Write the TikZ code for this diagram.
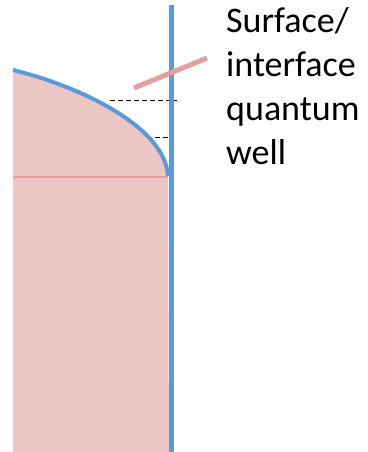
\documentclass[tikz,border=0pt]{standalone}
\usepackage{fontspec}
\setmainfont{Carlito}
\definecolor{wellblue}{RGB}{91,155,213}
\definecolor{wellfill}{RGB}{236,197,197}
\definecolor{welledge}{RGB}{226,160,160}
\definecolor{leader}{RGB}{228,160,160}
\begin{document}
\begin{tikzpicture}[x=1pt,y=-1pt,
  level/.style={black,line width=1.5pt,dash pattern=on 5pt off 3pt},
  lbl/.style={font=\fontsize{36}{44}\selectfont,align=left,inner sep=0pt,anchor=north west}]
\useasboundingbox (0,0) rectangle (367,452);
% fill
\fill[wellfill] (13,70) .. controls (75,85) and (165,125) .. (168,176) -- (169,452) -- (13,452) -- cycle;
\draw[welledge,line width=1.2pt] (13,177) -- (168,177);
% dashed levels
\coordinate (l1a) at (110,100.5);
\coordinate (l1b) at (177,100.5);
\coordinate (l2a) at (147,137.5);
\coordinate (l2b) at (173,137.5);
\draw[level] (l1a) -- (l1b);
\draw[level] (l2a) -- (l2b);
% band curve
\draw[wellblue,line width=4pt] (13,70) .. controls (75,85) and (165,125) .. (168,176);
% surface line
\coordinate (st) at (171,5);
\coordinate (sb) at (171,452);
\draw[wellblue,line width=5pt] (st) -- (sb);
% label
\node[lbl] (txt) at (226,7) {Surface/\\interface\\quantum\\well};
\coordinate (la) at (134,88);
\coordinate (lb) at (207,58);
\draw[leader,line width=5pt] (la) -- (lb);
\end{tikzpicture}
\end{document}
